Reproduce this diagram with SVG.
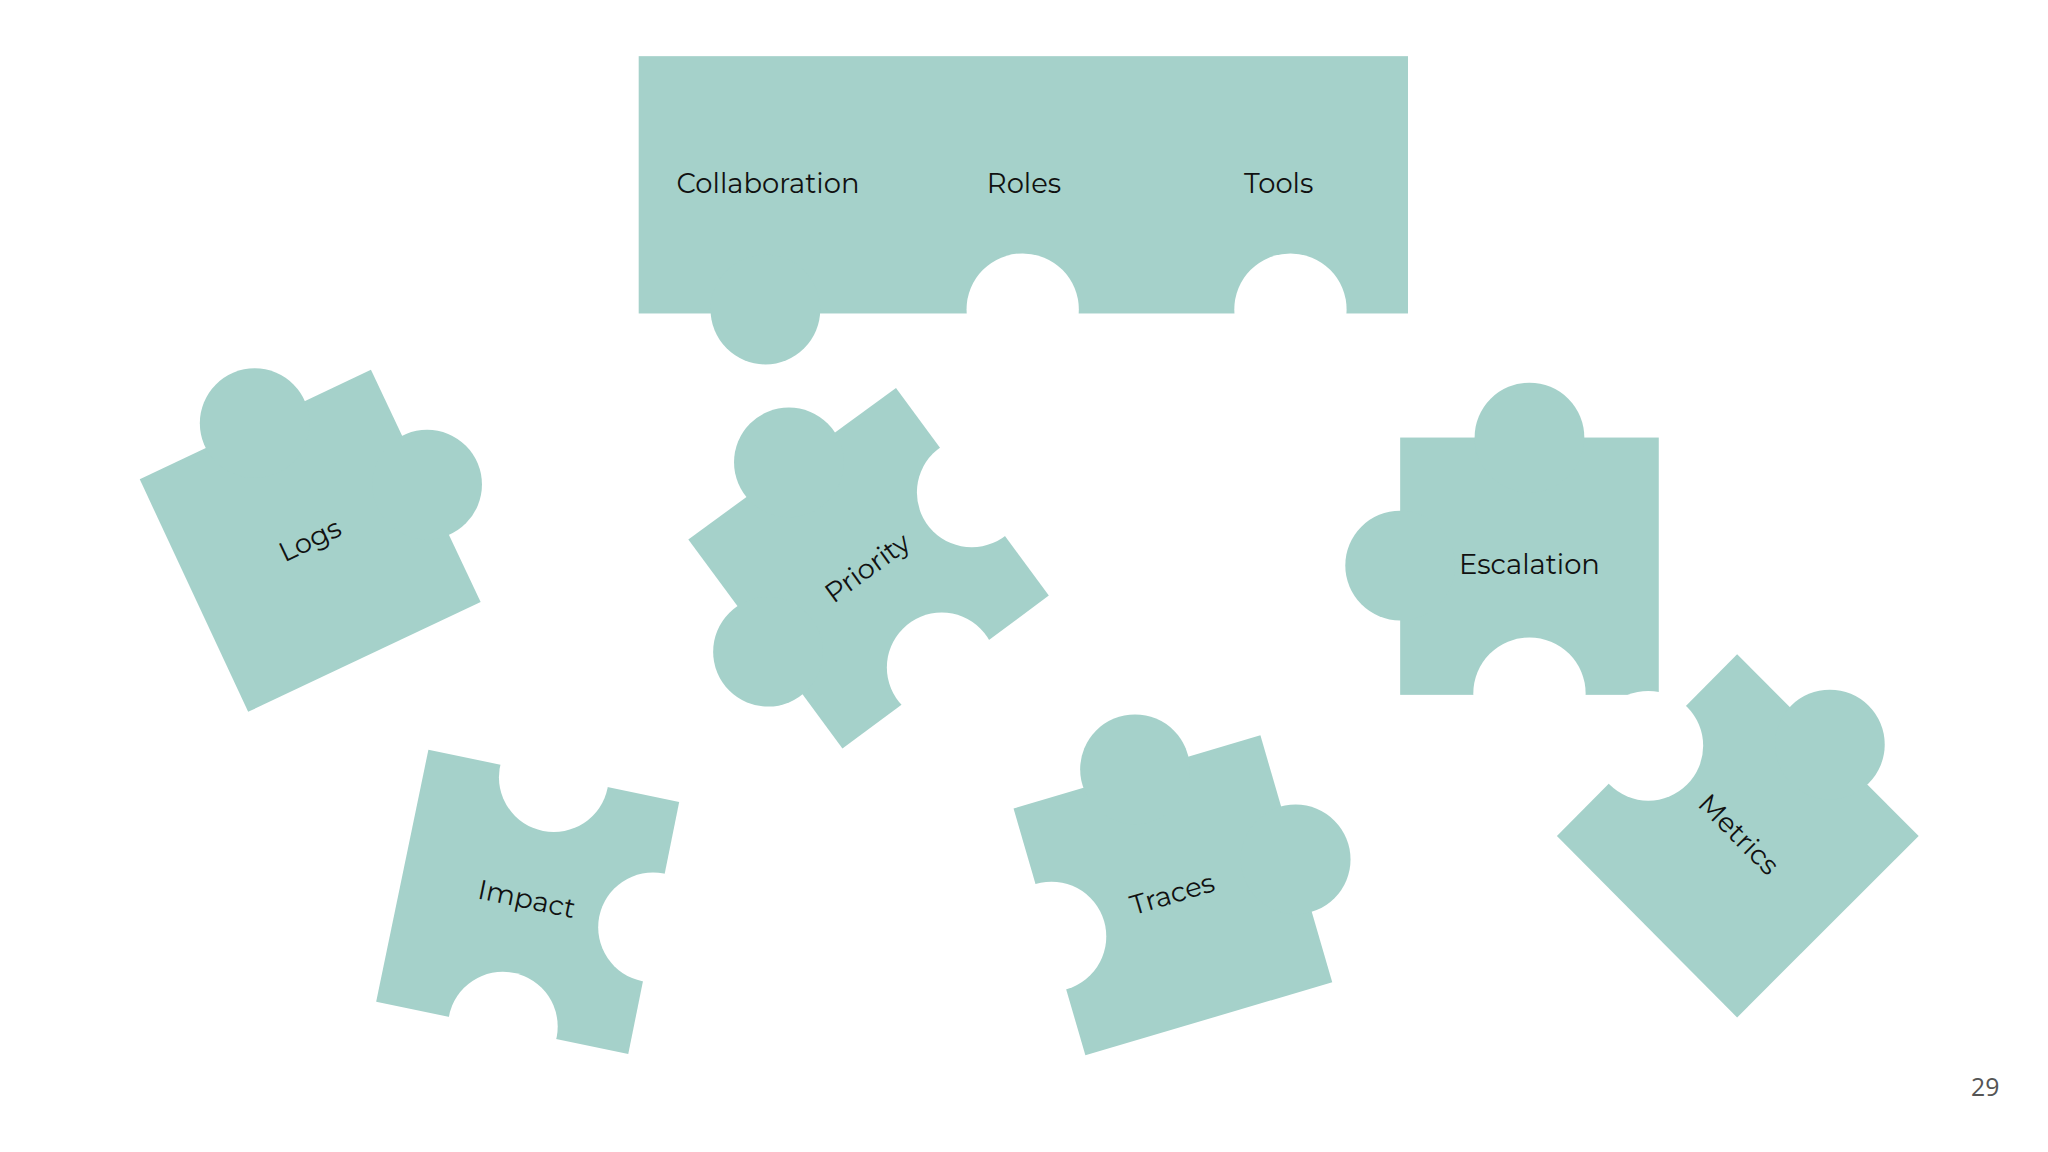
<svg xmlns="http://www.w3.org/2000/svg" width="2048" height="1152" viewBox="0 0 2048 1152">
<style>
.p{fill:#A5D1CA}
.h{fill:#FFFFFF}
.t{font-family:Montserrat,"Open Sans","Liberation Sans",sans-serif;font-size:21px;fill:#111;text-anchor:middle;dominant-baseline:middle}
</style>
<rect width="2048" height="1152" fill="#fff"/>
<g transform="scale(1.30612)">
<g id="top">
<rect class="p" x="489" y="43" width="589" height="197"/>
<circle class="p" cx="586" cy="237" r="42"/>
<circle class="h" cx="783" cy="237" r="43"/>
<circle class="h" cx="988" cy="237" r="43"/>
<text class="t" x="588" y="142">Collaboration</text>
<text class="t" x="784" y="142">Roles</text>
<text class="t" x="979" y="142">Tools</text>
</g>
<g id="logs">
<polygon class="p" points="107,367 284,283 368,461 190,545"/>
<circle class="p" cx="195" cy="324" r="42"/>
<circle class="p" cx="327" cy="371" r="42"/>
<text class="t" x="238" y="415" transform="rotate(-25.4 238 415)">Logs</text>
</g>
<g id="priority">
<polygon class="p" points="527,413 686,297 803,456 645,573"/>
<circle class="p" cx="604" cy="354" r="42"/>
<circle class="p" cx="588" cy="499" r="42"/>
<circle class="h" cx="744" cy="377" r="42"/>
<circle class="h" cx="721" cy="511" r="42"/>
<text class="t" x="665" y="436" transform="rotate(-36 665 436)">Priority</text>
</g>
<g id="escalation">
<rect class="p" x="1072" y="335" width="198" height="197"/>
<circle class="p" cx="1171" cy="335" r="42"/>
<circle class="p" cx="1072" cy="433" r="42"/>
<circle class="h" cx="1171" cy="531" r="43"/>
<text class="t" x="1171" y="434">Escalation</text>
</g>
<g id="metrics">
<polygon class="p" points="1192,640 1330,501 1469,640 1330,779"/>
<circle class="p" cx="1401" cy="570" r="42"/>
<circle class="h" cx="1262" cy="571" r="42"/>
<text class="t" x="1330" y="640" transform="rotate(45 1330 640)">Metrics</text>
</g>
<g id="impact">
<polygon class="p" points="328,574 520,614 481,807 288,767"/>
<circle class="h" cx="424" cy="595" r="42"/>
<circle class="h" cx="500" cy="710" r="42"/>
<circle class="h" cx="385" cy="786" r="42"/>
<text class="t" x="403" y="690" transform="rotate(11.8 403 690)">Impact</text>
</g>
<g id="traces">
<polygon class="p" points="776,619 965,563 1020,752 831,808"/>
<circle class="p" cx="869" cy="589" r="42"/>
<circle class="p" cx="992" cy="658" r="42"/>
<circle class="h" cx="805" cy="717" r="42"/>
<text class="t" x="898" y="686" transform="rotate(-16.5 898 686)">Traces</text>
</g>
<g id="connectors"></g>
<text x="1520" y="834" font-family="'Open Sans','Liberation Sans',sans-serif" font-size="19" fill="#555" text-anchor="middle" dominant-baseline="middle">29</text>
</g>
</svg>
